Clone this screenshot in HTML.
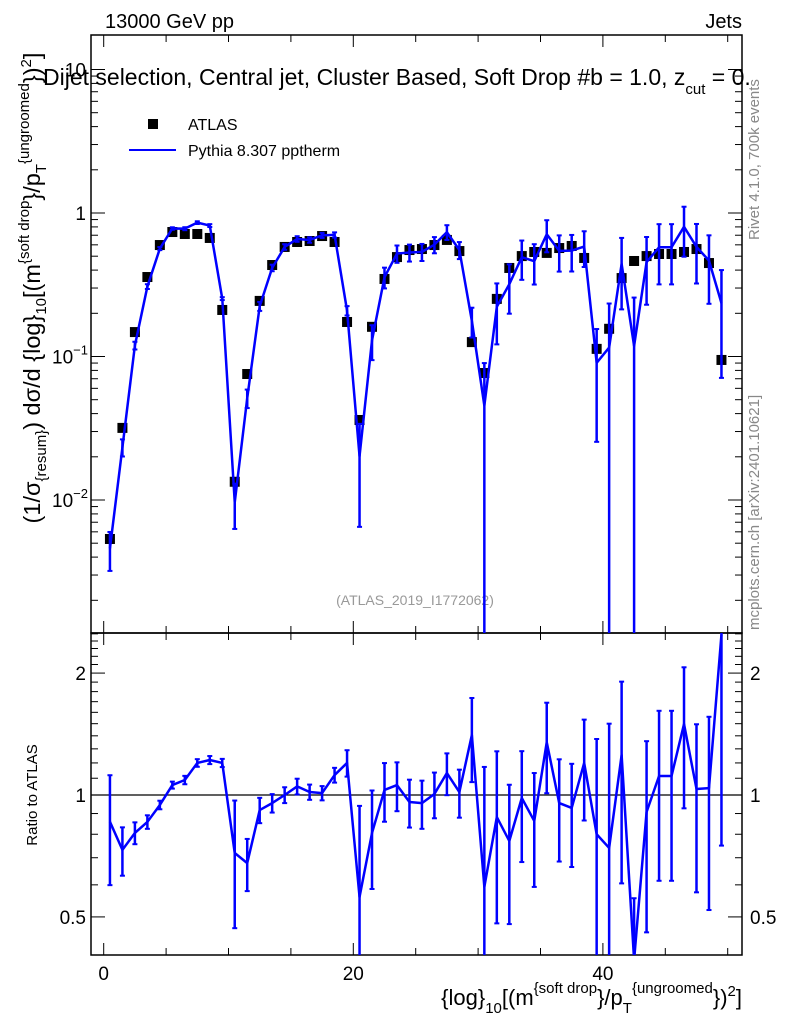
<!DOCTYPE html>
<html><head><meta charset="utf-8"><style>
html,body{margin:0;padding:0;background:#fff;}
svg{display:block;font-family:"Liberation Sans",sans-serif;}
</style></head><body>
<svg id="chart" width="786" height="1024" viewBox="0 0 786 1024">
<text x="105" y="28" font-size="20">13000 GeV pp</text>
<text x="742" y="28" font-size="20" text-anchor="end">Jets</text>
<text x="759" y="240" font-size="15" fill="#888" transform="rotate(-90 759 240)">Rivet 4.1.0,  700k events</text>
<text x="759" y="630" font-size="15" fill="#888" transform="rotate(-90 759 630)">mcplots.cern.ch [arXiv:2401.10621]</text>
<text x="415" y="605" font-size="14" fill="#999" text-anchor="middle">(ATLAS_2019_I1772062)</text>
<g id="axes"></g>
<g id="marks"></g>
<text x="43" y="85" font-size="23">Dijet selection, Central jet, Cluster Based, Soft Drop #b = 1.0, z<tspan font-size="15" dy="9">cut</tspan><tspan dy="-9"> = 0.</tspan></text>
<g>
<rect x="148" y="119" width="10" height="10" fill="#000"/>
<text x="188" y="130" font-size="16">ATLAS</text>
<line x1="129" y1="150" x2="176" y2="150" stroke="#0000ff" stroke-width="2"/>
<text x="188" y="156" font-size="16">Pythia 8.307 pptherm</text>
</g>
<text transform="translate(40 288) rotate(-90)" font-size="23.5" text-anchor="middle">(1/σ<tspan font-size="15" dy="6">{resum}</tspan><tspan dy="-6">) dσ/d {log}</tspan><tspan font-size="15" dy="6">10</tspan><tspan dy="-6">[(m</tspan><tspan font-size="15" dy="-11">{soft drop</tspan><tspan dy="11">}/p</tspan><tspan font-size="15" dy="6">T</tspan><tspan font-size="15" dy="-17">{ungroomed</tspan><tspan dy="11">})</tspan><tspan font-size="15" dy="-9">2</tspan><tspan dy="9">]</tspan></text>
<text transform="translate(37 795) rotate(-90)" font-size="15" text-anchor="middle">Ratio to ATLAS</text>
<text x="742" y="1005" font-size="22" text-anchor="end">{log}<tspan font-size="15" dy="8">10</tspan><tspan dy="-8">[(m</tspan><tspan font-size="15" dy="-12">{soft drop</tspan><tspan dy="12">}/p</tspan><tspan font-size="15" dy="8">T</tspan><tspan font-size="15" dy="-20">{ungroomed</tspan><tspan dy="12">})</tspan><tspan font-size="15" dy="-9">2</tspan><tspan dy="9">]</tspan></text>
</svg>
<script>
const binCenters = [0.5,1.5,2.5,3.5,4.5,5.5,6.5,7.5,8.5,9.5,10.5,11.5,12.5,13.5,14.5,15.5,16.5,17.5,18.5,19.5,20.5,21.5,22.5,23.5,24.5,25.5,26.5,27.5,28.5,29.5,30.5,31.5,32.5,33.5,34.5,35.5,36.5,37.5,38.5,39.5,40.5,41.5,42.5,43.5,44.5,45.5,46.5,47.5,48.5,49.5];
const atlasValues = [0.00535,0.0318,0.148,0.358,0.598,0.737,0.714,0.714,0.670,0.211,0.0134,0.0755,0.244,0.434,0.580,0.628,0.638,0.691,0.628,0.174,0.0361,0.161,0.347,0.493,0.552,0.561,0.598,0.649,0.543,0.126,0.0767,0.252,0.414,0.501,0.535,0.527,0.570,0.589,0.486,0.113,0.156,0.352,0.463,0.501,0.518,0.518,0.535,0.561,0.448,0.0946];
const ratioValues = [0.859,0.732,0.806,0.858,0.945,1.058,1.089,1.20,1.22,1.20,0.719,0.679,0.918,0.955,1.0,1.05,1.017,1.011,1.12,1.20,0.56,0.806,1.029,1.058,0.961,0.955,1.006,1.133,1.017,1.406,0.593,0.882,0.770,0.983,0.863,1.35,0.955,0.929,1.20,0.80,0.74,1.255,0.256,0.908,1.114,1.114,1.497,1.035,1.04,2.49];
const ratioErrors = [0.26,0.10,0.05,0.033,0.023,0.021,0.026,0.026,0.028,0.028,0.25,0.10,0.066,0.05,0.045,0.047,0.044,0.041,0.047,0.09,0.38,0.22,0.17,0.146,0.13,0.13,0.13,0.134,0.138,0.33,0.58,0.40,0.29,0.30,0.27,0.34,0.27,0.265,0.335,0.575,0.76,0.65,0.30,0.45,0.50,0.50,0.57,0.46,0.52,1.74];
const xTickLabels = [0,20,40];
const mainTickLabels = [[0.01,"10","−2"],[0.1,"10","−1"],[1,"1",""],[10,"10",""]];
const ratioTickLabels = [0.5,1,2];

const NS="http://www.w3.org/2000/svg";
const L=91,R=742,T=35,MB=633,RB=955;
const X=v=>103.7+12.48*v;
const Y=v=>213-143.5*Math.log10(v);
const RY=r=>795-405*Math.log10(r);
const axes=document.getElementById('axes'), marks=document.getElementById('marks');
function mk(tag,attrs,parent){const e=document.createElementNS(NS,tag);for(const k in attrs)e.setAttribute(k,attrs[k]);parent.appendChild(e);return e;}
function ln(x1,y1,x2,y2,parent,stroke,w){return mk('line',{x1,y1,x2,y2,stroke:stroke||'#000','stroke-width':w||1},parent);}

let f1=mk('rect',{x:L,y:T,width:R-L,height:MB-T,fill:'none',stroke:'#000','stroke-width':1.5},axes);


let f2=mk('rect',{x:L,y:MB,width:R-L,height:RB-MB,fill:'none',stroke:'#000','stroke-width':1.5},axes);



for(let v=0;v<=50;v+=5){
  const x=X(v), len=(v%20===0)?12:7;
  [[T,1],[MB,-1],[MB,1],[RB,-1]].forEach(([y,d])=>{const t=ln(x,y,x,y+d*len,axes);
    
    });
}
xTickLabels.forEach(v=>{const t=mk('text',{x:X(v),y:980,'font-size':19,'text-anchor':'middle'},axes);t.textContent=v;
  
  });

for(let d=-3;d<=1;d++){for(let m=1;m<=9;m++){const v=m*Math.pow(10,d);const y=Y(v);if(y<T||y>MB)continue;
  const len=m===1?14:7;
  [ln(L,y,L+len,y,axes),ln(R,y,R-len,y,axes)].forEach(t=>{
    
    });}}
mainTickLabels.forEach(([v,b,e])=>{const t=mk('text',{x:e?78:86,y:Y(v)+7,'font-size':19,'text-anchor':'end'},axes);
  t.textContent=b; if(e){const s=mk('tspan',{'font-size':13,dy:-9},t);s.textContent=e;t.setAttribute('x',88);}
  
  });

for(let i=4;i<=25;i++){const r=i/10;const y=RY(r);if(y<MB||y>RB)continue;
  const len=(i===5||i===10||i===20)?14:7;
  [ln(L,y,L+len,y,axes),ln(R,y,R-len,y,axes)].forEach(t=>{
    
    });}
ratioTickLabels.forEach(r=>{[[86,'end'],[750,'start']].forEach(([x,a])=>{const t=mk('text',{x,y:RY(r)+7,'font-size':19,'text-anchor':a},axes);t.textContent=r;
  
  });});
const one=ln(L,RY(1),R,RY(1),axes,'#000',1.3);



const defs=mk('defs',{},marks);
const c1=mk('clipPath',{id:'cm'},defs);mk('rect',{x:L,y:T,width:R-L,height:MB-T},c1);
const c2=mk('clipPath',{id:'cr'},defs);mk('rect',{x:L,y:MB,width:R-L,height:RB-MB},c2);
const gm=mk('g',{'clip-path':'url(#cm)'},marks), gr=mk('g',{'clip-path':'url(#cr)'},marks);
const BLUE='#0000ff';

const mc=atlasValues.map((d,i)=>d*ratioValues[i]);
const mcErr=atlasValues.map((d,i)=>d*ratioErrors[i]);
const clampY=v=>v>0?Math.min(Y(v),MB+5):MB+5;
binCenters.forEach((c,i)=>{const r=mk('rect',{x:X(c)-5,y:Y(atlasValues[i])-5,width:10,height:10,fill:'#000'},gm);
  
  });
const pm=mk('polyline',{points:binCenters.map((c,i)=>X(c)+','+clampY(mc[i])).join(' '),fill:'none',stroke:BLUE,'stroke-width':2.5,'stroke-linejoin':'round'},gm);


binCenters.forEach((c,i)=>{const x=X(c),y1=clampY(mc[i]+mcErr[i]),y2=clampY(mc[i]-mcErr[i]);
  const g=mk('g',{},gm);
  ln(x,y1,x,y2,g,BLUE,2.5);ln(x-2.5,y1,x+2.5,y1,g,BLUE,2);ln(x-2.5,y2,x+2.5,y2,g,BLUE,2);
  
  });

const clampR=r=>r>0?Math.max(Math.min(RY(r),RB+5),MB-5):RB+5;
const pr=mk('polyline',{points:binCenters.map((c,i)=>X(c)+','+clampR(ratioValues[i])).join(' '),fill:'none',stroke:BLUE,'stroke-width':2.5,'stroke-linejoin':'round'},gr);


binCenters.forEach((c,i)=>{const x=X(c),y1=clampR(ratioValues[i]+ratioErrors[i]),y2=clampR(ratioValues[i]-ratioErrors[i]);
  const g=mk('g',{},gr);
  ln(x,y1,x,y2,g,BLUE,2.5);ln(x-2.5,y1,x+2.5,y1,g,BLUE,2);ln(x-2.5,y2,x+2.5,y2,g,BLUE,2);
  
  });
</script>
</body></html>
